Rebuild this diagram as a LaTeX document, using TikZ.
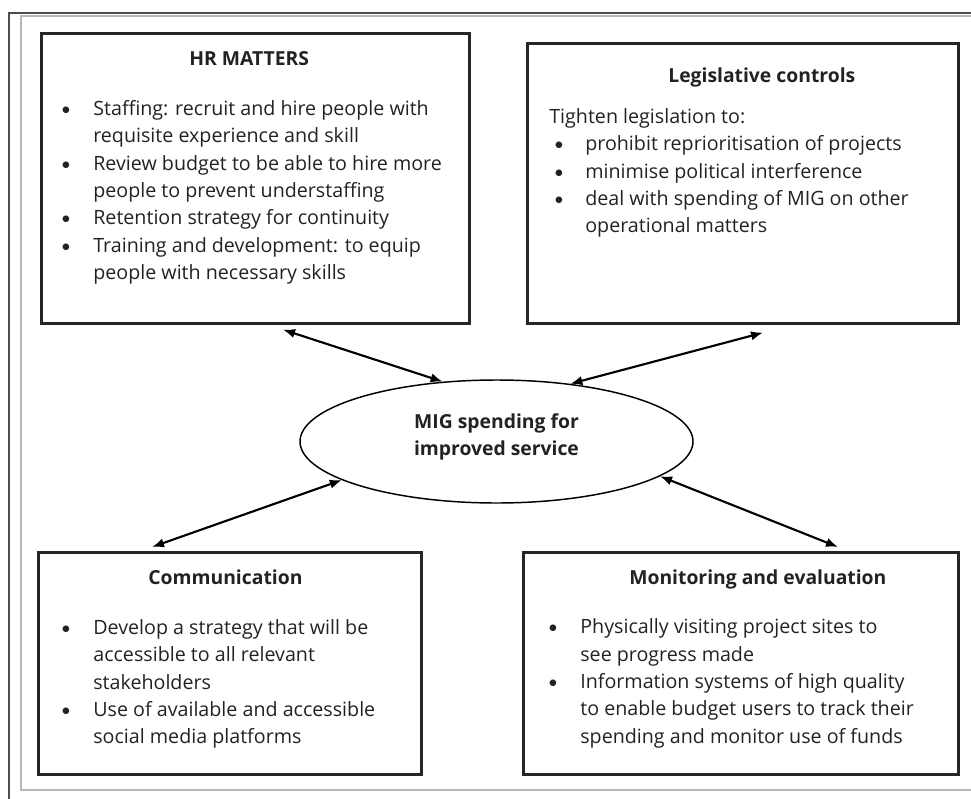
\documentclass[tikz,border=0pt]{standalone}
\usepackage{fontspec}
\setmainfont{Open Sans}
\newfontfamily\bulfont{Carlito}
\usepackage{tikz}
\usetikzlibrary{positioning,arrows.meta,calc,shapes.geometric}

\definecolor{txt}{HTML}{222222}
\newlength{\px}\setlength{\px}{0.75pt}
\newlength{\itmind}\setlength{\itmind}{32\px}
\newlength{\itmoff}\setlength{\itmoff}{0pt}
\newcommand{\panelfont}{\fontsize{14.75pt}{20.5pt}\selectfont\parindent=0pt\color{txt}}
\newcommand{\ttl}[1]{{\fontsize{14.5pt}{20.5pt}\selectfont\bfseries #1}}
\newcommand{\itm}[1]{\par\hangindent=\itmind\hangafter=1\noindent\hbox to\itmind{\hspace*{\itmoff}{\bulfont\fontsize{14pt}{20.5pt}\selectfont\textbullet}\hfil}#1}

\begin{document}
\begin{tikzpicture}[x=0.75pt, y=-0.75pt,
  panel/.style={draw=black!85, line width=2pt, anchor=north west, inner sep=0pt},
  hub/.style={ellipse, draw=black, line width=1.1pt, inner sep=0pt, minimum width=294.75pt, minimum height=92.25pt,
    align=center, text=txt, font=\fontsize{14.5pt}{20.25pt}\selectfont\bfseries},
  arr/.style={{Latex[length=9pt,width=7pt]}-{Latex[length=9pt,width=7pt]}, line width=1.6pt, draw=black}]
\useasboundingbox (0,0) rectangle (971,799);
\draw[black!70, line width=1.2pt] (9,799) -- (9,13) -- (971,13);
\draw[black!28, line width=0.8pt] (971,16) -- (21,16) -- (21,790) -- (971,790);

\node[panel] (hr) at (40,32) {\hspace*{20\px}\parbox[c][290\px][t]{408\px}{\panelfont
  \rule{0pt}{32\px}\hspace*{128\px}\ttl{HR MATTERS}\par\vspace{17pt}
  \itm{Staffing: recruit and hire people with\\requisite experience and skill}
  \itm{Review budget to be able to hire more\\people to prevent understaffing}
  \itm{Retention strategy for continuity}
  \itm{Training and development: to equip\\people with necessary skills}}};
\node[panel] (leg) at (526,42) {\hspace*{22\px}\parbox[c][280\px][t]{409\px}{\panelfont
  \setlength{\itmind}{36\px}\setlength{\itmoff}{5\px}%
  \rule{0pt}{39\px}\hspace*{119\px}\ttl{Legislative controls}\par\vspace{10.25pt}
  Tighten legislation to:
  \itm{prohibit reprioritisation of projects}
  \itm{minimise political interference}
  \itm{deal with spending of MIG on other\\operational matters}}};
\node[panel] (com) at (37,551) {\hspace*{23\px}\parbox[c][222\px][t]{360\px}{\panelfont
  \rule{0pt}{32\px}\hspace*{87\px}\ttl{Communication}\par\vspace{17pt}
  \itm{Develop a strategy that will be\\accessible to all relevant\\stakeholders}
  \itm{Use of available and accessible\\social media platforms}}};
\node[panel] (mon) at (522,551) {\hspace*{25\px}\parbox[c][222\px][t]{410\px}{\panelfont
  \rule{0pt}{32\px}\hspace*{81\px}\ttl{Monitoring and evaluation}\par\vspace{16.5pt}
  \itm{Physically visiting project sites to\\see progress made}
  \itm{Information systems of high quality\\to enable budget users to track their\\spending and monitor use of funds}}};
\node[hub] (hub) at (496.5,441.5) {MIG spending for\\improved service\rule[-11pt]{0pt}{11pt}};

\draw[arr] ($(hr.south west)+(243,5)$) -- (hub.132);
\draw[arr] ($(leg.south west)+(237,8)$) -- (hub.38);
\draw[arr] ($(com.north west)+(115,-4)$) -- (hub.194);
\draw[arr] ($(mon.north west)+(316,-4)$) -- (hub.348);
\end{tikzpicture}
\end{document}
